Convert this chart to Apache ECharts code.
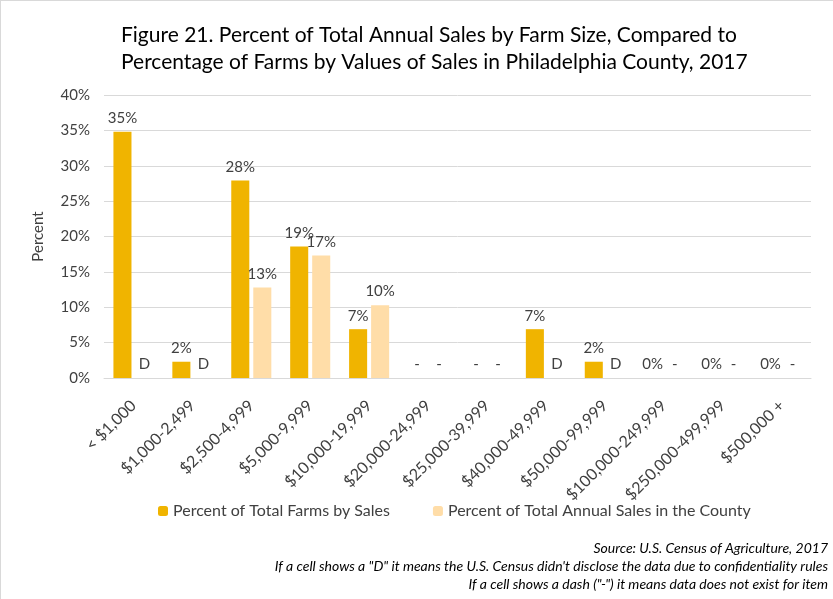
<!DOCTYPE html>
<html>
<head>
<meta charset="utf-8">
<script src="https://cdn.jsdelivr.net/npm/echarts@6/dist/echarts.min.js"></script>
<style>
  html, body { margin: 0; padding: 0; background: #fff; }
  #chart { width: 833px; height: 599px; box-sizing: border-box; border-left: 1px solid #d9d9d9; border-top: 1px solid #d9d9d9; }
</style>
</head>
<body>
<div id="chart"></div>
<script>
const categories = [
  '< $1,000', '$1,000-2,499', '$2,500-4,999', '$5,000-9,999', '$10,000-19,999',
  '$20,000-24,999', '$25,000-39,999', '$40,000-49,999', '$50,000-99,999',
  '$100,000-249,999', '$250,000-499,999', '$500,000 +'
]
// percent values; null = no bar (see the note codes)
const farmsPct = [34.8, 2.3, 27.9, 18.6, 6.9, null, null, 6.9, 2.3, 0, 0, 0]
const salesPct = [null, null, 12.8, 17.3, 10.3, null, null, null, null, null, null, null]
const farmsLabels = ['35%', '2%', '28%', '19%', '7%', '-', '-', '7%', '2%', '0%', '0%', '0%']
const salesLabels = ['D', 'D', '13%', '17%', '10%', '-', '-', 'D', 'D', '-', '-', '-']
const yTicks = [0, 5, 10, 15, 20, 25, 30, 35, 40]

const FONT = 'Lato'
const TEXT = '#404040'

const chart = echarts.init(document.getElementById('chart'))

const makeLabel = (labels) => ({
  show: true,
  position: 'top',
  distance: 6,
  color: TEXT,
  fontFamily: FONT,
  fontSize: 15,
  formatter: (p) => labels[p.dataIndex],
})

const note = (text, top) => ({
  type: 'text', right: 5, top,
  style: { text, fontFamily: FONT, fontStyle: 'italic', fontSize: 14, fill: '#000', textAlign: 'right' },
})

chart.setOption({
  animation: false,
  textStyle: { fontFamily: FONT },
  title: {
    text: 'Figure 21. Percent of Total Annual Sales by Farm Size, Compared to\nPercentage of Farms by Values of Sales in Philadelphia County, 2017',
    left: 115,
    top: 16,
    textStyle: { fontFamily: FONT, fontSize: 21, fontWeight: 'normal', color: '#000', lineHeight: 27 },
  },
  grid: { left: 103, right: 22, top: 94, bottom: 221 },
  legend: {
    bottom: 75,
    left: 152,
    itemWidth: 10,
    itemHeight: 10,
    itemGap: 43,
    textStyle: { fontFamily: FONT, fontSize: 16, color: TEXT },
    data: ['Percent of Total Farms by Sales', 'Percent of Total Annual Sales in the County'],
  },
  xAxis: {
    type: 'category',
    data: categories,
    axisTick: { show: false },
    axisLine: { lineStyle: { color: '#d9d9d9' } },
    axisLabel: { rotate: 45, interval: 0, color: TEXT, fontFamily: FONT, fontSize: 16, margin: 25 },
  },
  yAxis: {
    type: 'value',
    min: yTicks[0],
    max: yTicks[yTicks.length - 1],
    interval: 5,
    name: 'Percent',
    nameLocation: 'middle',
    nameRotate: 90,
    nameGap: 58,
    nameTextStyle: { fontFamily: FONT, fontSize: 15, color: TEXT },
    axisLabel: { formatter: '{value}%', color: TEXT, fontFamily: FONT, fontSize: 15, margin: 14 },
    splitLine: { lineStyle: { color: '#d9d9d9' } },
  },
  series: [
    {
      name: 'Percent of Total Farms by Sales',
      type: 'bar',
      data: farmsPct.map((v) => v ?? 0),
      itemStyle: { color: '#F0B400' },
      barGap: '22%',
      barCategoryGap: '32%',
      label: makeLabel(farmsLabels),
    },
    {
      name: 'Percent of Total Annual Sales in the County',
      type: 'bar',
      data: salesPct.map((v) => v ?? 0),
      itemStyle: { color: '#FFDDA8' },
      label: makeLabel(salesLabels),
    },
  ],
  graphic: [
    note('Source: U.S. Census of Agriculture, 2017', 540),
    note('If a cell shows a "D" it means the U.S. Census didn\'t disclose the data due to confidentiality rules', 558),
    note('If a cell shows a dash ("-") it means data does not exist for item', 576),
  ],
})
</script>
</body>
</html>
